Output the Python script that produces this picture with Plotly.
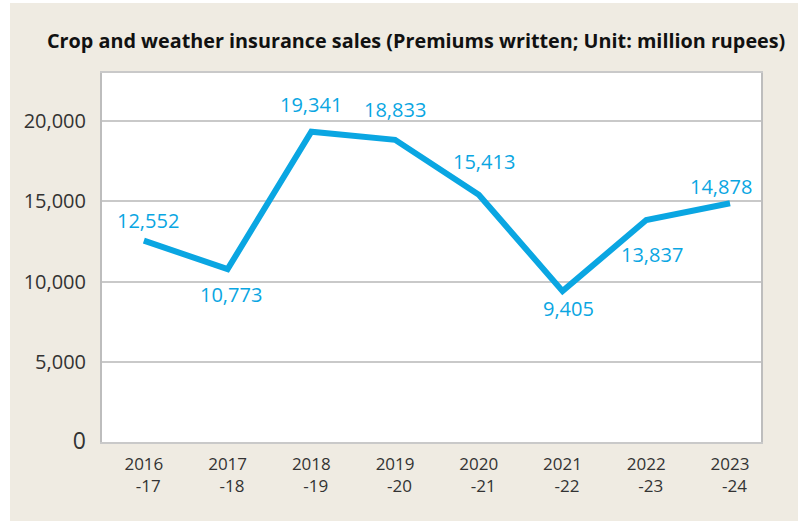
import plotly.graph_objects as go

# Fiscal years and premiums written (million rupees)
years = ["2016<br>\u00a0\u00a0-17", "2017<br>\u00a0\u00a0-18", "2018<br>\u00a0\u00a0-19", "2019<br>\u00a0\u00a0-20",
         "2020<br>\u00a0\u00a0-21", "2021<br>\u00a0\u00a0-22", "2022<br>\u00a0\u00a0-23", "2023<br>\u00a0\u00a0-24"]
premiums = [12552, 10773, 19341, 18833, 15413, 9405, 13837, 14878]
y_ticks = [0, 5000, 10000, 15000, 20000]

# value-label offsets in pixels
label_dx = [4, 3, 0, 0, 5, 6, 6, -9]
label_dy = [20, -25, 27, 30, 33, -17, -34, 17]

BLUE = "#0aa6e2"
BEIGE = "#efebe2"
GRID = "#c9c9c9"
FONT = "Open Sans"

W, H = 798, 521
ML, MR, MT, MB = 102, 37, 73, 79
pw, ph = W - ML - MR, H - MT - MB


def px_x(p):
    return (p - ML) / pw


def px_y(p):
    return (H - MB - p) / ph


xs = list(range(len(years)))

fig = go.Figure()
fig.add_trace(go.Scatter(
    x=xs, y=premiums, mode="lines",
    line=dict(color=BLUE, width=6),
    hoverinfo="skip", showlegend=False,
))

for i, v in enumerate(premiums):
    fig.add_annotation(
        x=xs[i], y=v, xref="x", yref="y", text=f"{v:,}", showarrow=False,
        xshift=label_dx[i], yshift=label_dy[i],
        font=dict(family=FONT, size=20, color=BLUE),
    )

fig.add_annotation(
    x=px_x(416), y=px_y(40), xref="paper", yref="paper", xanchor="center", yanchor="middle",
    text="<b>Crop and weather insurance sales (Premiums written; Unit: million rupees)</b>",
    showarrow=False, font=dict(family=FONT, size=19.8, color="#111111"),
)

# white edge strips around the beige panel
fig.add_shape(type="rect", xref="paper", yref="paper", x0=px_x(0), x1=px_x(10), y0=px_y(H), y1=px_y(0),
              fillcolor="white", line_width=0, layer="below")
fig.add_shape(type="rect", xref="paper", yref="paper", x0=px_x(0), x1=px_x(W), y0=px_y(3), y1=px_y(0),
              fillcolor="white", line_width=0, layer="below")

y_text = [f"{t:,}" if t else "<span style='font-size:23px'>0</span>" for t in y_ticks]

fig.update_layout(
    width=W, height=H,
    margin=dict(l=ML, r=MR, t=MT, b=MB, pad=0),
    paper_bgcolor=BEIGE, plot_bgcolor="white",
    font=dict(family=FONT, color="#333333"),
)
fig.update_xaxes(
    range=[-0.5, 7.37], tickmode="array", tickvals=xs, ticktext=years,
    showgrid=False, zeroline=False, showline=True, linecolor=GRID, linewidth=1.5, mirror=True,
    ticks="", tickfont=dict(family=FONT, size=17, color="#333333"),
    ticklabelstandoff=6,
)
fig.update_yaxes(
    range=[0, 23000], tickmode="array", tickvals=y_ticks, ticktext=y_text,
    showgrid=True, gridcolor=GRID, gridwidth=1.5, zeroline=False,
    showline=True, linecolor="#bdbdbd", linewidth=2, mirror=True,
    ticks="", tickfont=dict(family=FONT, size=20, color="#333333"),
    ticklabelstandoff=10,
)

fig.write_html("out.html")
